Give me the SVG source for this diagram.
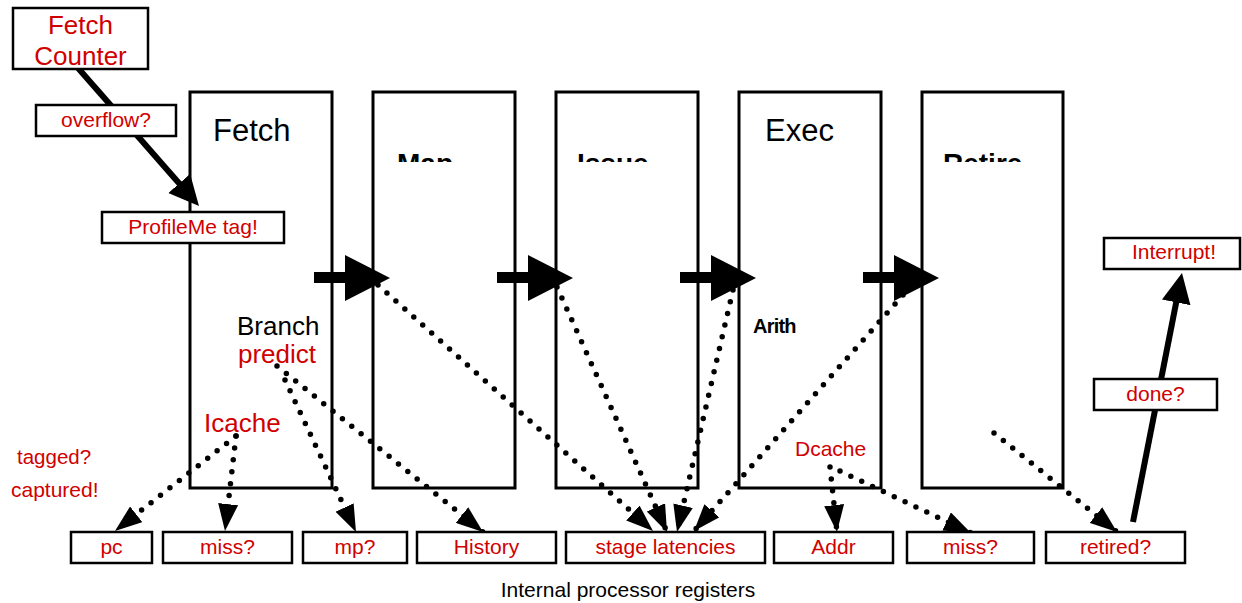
<svg xmlns="http://www.w3.org/2000/svg" width="1242" height="603" viewBox="0 0 1242 603">
<style>
  .stage{fill:#fff;stroke:#000;stroke-width:3}
  .lbl{fill:#fff;stroke:#000;stroke-width:2.5}
  .red{fill:#d00000;font-family:"Liberation Sans",Arial,sans-serif}
  .blk{fill:#000;font-family:"Liberation Sans",Arial,sans-serif}
  .dot{fill:none;stroke:#000;stroke-width:5.5;stroke-linecap:round;stroke-dasharray:0 12}
  .thick{fill:none;stroke:#000;stroke-width:6}
</style>
<defs>
  <marker id="dh" markerUnits="userSpaceOnUse" markerWidth="28" markerHeight="20" refX="27" refY="10" orient="auto">
    <path d="M0,0 L27,10 L0,20 z" fill="#000"/>
  </marker>
  <marker id="sh" markerUnits="userSpaceOnUse" markerWidth="31" markerHeight="30" refX="15" refY="14.5" orient="auto">
    <path d="M0,0 L30,14.5 L0,29 z" fill="#000"/>
  </marker>
  <path id="pipe" d="M314,272 H345 V255 L390,278 L345,301 V283 H314 z" fill="#000"/>
  <clipPath id="clipTop"><rect x="0" y="0" width="1242" height="162"/></clipPath>
</defs>

<g id="stage-fetch">
  <rect class="stage" x="190" y="92" width="142" height="396"/>
  <text class="blk" x="213" y="141" font-size="31">Fetch</text>
  <text class="blk" x="237" y="335" font-size="26">Branch</text>
  <text class="red" x="238" y="363" font-size="26">predict</text>
  <text class="red" x="204" y="432" font-size="26">Icache</text>
</g>
<g id="stage-map">
  <rect class="stage" x="373" y="92" width="142" height="396"/>
  <text class="blk" x="397" y="173" font-size="28" font-weight="bold" clip-path="url(#clipTop)">Map</text>
</g>
<g id="stage-issue">
  <rect class="stage" x="556" y="92" width="142" height="396"/>
  <text class="blk" x="577" y="173" font-size="28" font-weight="bold" clip-path="url(#clipTop)">Issue</text>
</g>
<g id="stage-exec">
  <rect class="stage" x="739" y="92" width="142" height="396"/>
  <text class="blk" x="765" y="141" font-size="31">Exec</text>
  <text class="blk" x="753" y="333" font-size="20" font-weight="bold" letter-spacing="-0.8">Arith</text>
  <text class="red" x="795" y="456" font-size="21">Dcache</text>
</g>
<g id="stage-retire">
  <rect class="stage" x="922" y="92" width="141" height="396"/>
  <text class="blk" x="943" y="173" font-size="28" font-weight="bold" clip-path="url(#clipTop)">Retire</text>
</g>

<g id="connectors">
  <use href="#pipe"/>
  <use href="#pipe" x="183"/>
  <use href="#pipe" x="366"/>
  <use href="#pipe" x="549"/>
  <path class="thick" d="M78,68 L189.1,194.7" marker-end="url(#sh)"/>
  <path class="thick" d="M1133,522 L1179.1,287.7" marker-end="url(#sh)"/>
  <path class="dot" d="M236,436 L115,531" marker-end="url(#dh)"/>
  <path class="dot" d="M236,436 L225,531" marker-end="url(#dh)"/>
  <path class="dot" d="M285,380 L356,532" marker-end="url(#dh)"/>
  <path class="dot" d="M277,366 L483,532" marker-end="url(#dh)"/>
  <path class="dot" d="M378,285 L653,531" marker-end="url(#dh)"/>
  <path class="dot" d="M557,287 L667,532" marker-end="url(#dh)"/>
  <path class="dot" d="M733,290 L677,532" marker-end="url(#dh)"/>
  <path class="dot" d="M903,295 L694,531" marker-end="url(#dh)"/>
  <path class="dot" d="M830,467 L837,532" marker-end="url(#dh)"/>
  <path class="dot" d="M840,471 L971,533" marker-end="url(#dh)"/>
  <path class="dot" d="M994,433 L1117,532" marker-end="url(#dh)"/>
</g>

<g id="fetch-counter">
  <rect class="lbl" x="13" y="8" width="135" height="61"/>
  <text class="red" x="80.5" y="34" font-size="26" text-anchor="middle">Fetch</text>
  <text class="red" x="80.5" y="65" font-size="26" text-anchor="middle">Counter</text>
</g>
<g id="overflow">
  <rect class="lbl" x="36" y="105" width="140" height="31"/>
  <text class="red" x="106" y="127" font-size="21" text-anchor="middle">overflow?</text>
</g>
<g id="profileme">
  <rect class="lbl" x="102" y="212" width="182" height="31"/>
  <text class="red" x="193" y="234" font-size="21" text-anchor="middle">ProfileMe tag!</text>
</g>
<g id="interrupt">
  <rect class="lbl" x="1104" y="238" width="136" height="31"/>
  <text class="red" x="1174" y="259" font-size="21" text-anchor="middle">Interrupt!</text>
</g>
<g id="done">
  <rect class="lbl" x="1094" y="379" width="123" height="31"/>
  <text class="red" x="1155.5" y="401" font-size="21" text-anchor="middle">done?</text>
</g>
<g id="side-labels">
  <text class="red" x="17" y="464" font-size="20.5">tagged?</text>
  <text class="red" x="11" y="497" font-size="21">captured!</text>
</g>

<g id="reg-pc">
  <rect class="lbl" x="71" y="532" width="81" height="31"/>
  <text class="red" x="111.5" y="554" font-size="21" text-anchor="middle">pc</text>
</g>
<g id="reg-imiss">
  <rect class="lbl" x="163" y="532" width="129" height="31"/>
  <text class="red" x="227.5" y="554" font-size="21" text-anchor="middle">miss?</text>
</g>
<g id="reg-mp">
  <rect class="lbl" x="303" y="532" width="104" height="31"/>
  <text class="red" x="355" y="554" font-size="21" text-anchor="middle">mp?</text>
</g>
<g id="reg-history">
  <rect class="lbl" x="417" y="532" width="139" height="31"/>
  <text class="red" x="486.5" y="554" font-size="21" text-anchor="middle">History</text>
</g>
<g id="reg-latencies">
  <rect class="lbl" x="566" y="532" width="199" height="31"/>
  <text class="red" x="665.5" y="554" font-size="21" text-anchor="middle">stage latencies</text>
</g>
<g id="reg-addr">
  <rect class="lbl" x="774" y="532" width="119" height="31"/>
  <text class="red" x="833.5" y="554" font-size="21" text-anchor="middle">Addr</text>
</g>
<g id="reg-dmiss">
  <rect class="lbl" x="907" y="532" width="127" height="31"/>
  <text class="red" x="970.5" y="554" font-size="21" text-anchor="middle">miss?</text>
</g>
<g id="reg-retired">
  <rect class="lbl" x="1046" y="532" width="139" height="31"/>
  <text class="red" x="1115.5" y="554" font-size="21" text-anchor="middle">retired?</text>
</g>
<g id="caption">
  <text class="blk" x="628" y="597" font-size="21" text-anchor="middle">Internal processor registers</text>
</g>
</svg>
